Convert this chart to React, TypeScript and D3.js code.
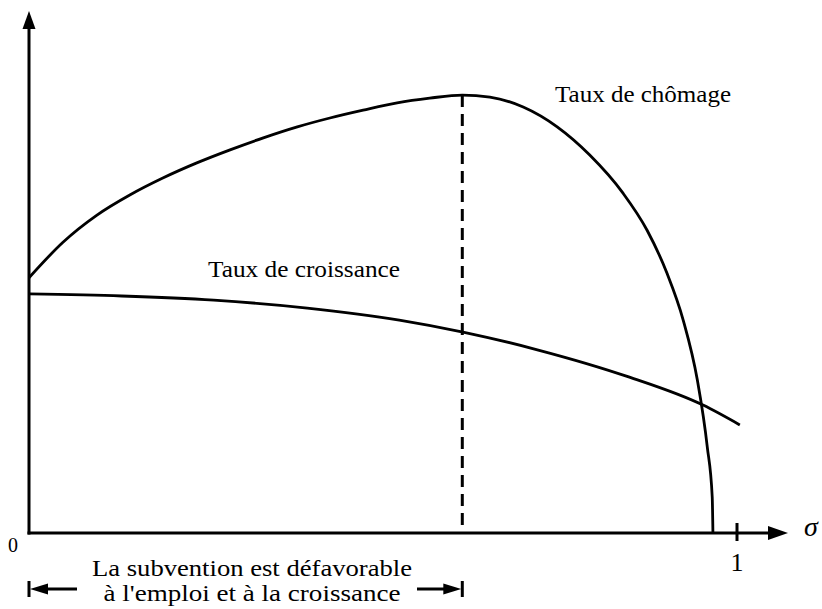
import React from "react";
import * as d3 from "d3";

// Courbe du taux de chômage en fonction de la subvention σ
const sigmaChomage = [0, 0.048, 0.096, 0.143, 0.189, 0.237, 0.284, 0.331, 0.379, 0.425, 0.472, 0.52, 0.566, 0.612, 0.651, 0.698, 0.746, 0.792, 0.839, 0.873, 0.901, 0.924, 0.944, 0.958, 0.965, 0.966];
const tauxChomage = [0.489, 0.557, 0.609, 0.648, 0.68, 0.709, 0.734, 0.757, 0.778, 0.795, 0.81, 0.824, 0.833, 0.839, 0.835, 0.816, 0.778, 0.724, 0.651, 0.58, 0.498, 0.408, 0.293, 0.165, 0.069, 0];

// Courbe du taux de croissance
const sigmaCroissance = [0, 0.131, 0.261, 0.393, 0.523, 0.613, 0.718, 0.847, 0.952, 1.004];
const tauxCroissance = [0.458, 0.454, 0.446, 0.431, 0.408, 0.385, 0.351, 0.299, 0.245, 0.207];

// Seuil au-delà duquel le chômage diminue
const sigmaSeuil = 0.612;
const xTickValues = [1];
const originLabel = "0";

const W = 822;
const H = 609;
const serif: React.CSSProperties = { fontFamily: '"Liberation Serif", "DejaVu Serif", serif' };

export default function App() {
  const x = d3.scaleLinear().domain([0, 1]).range([29, 737]);
  const y = d3.scaleLinear().domain([0, 1]).range([533, 11]);

  const line = d3
    .line<[number, number]>()
    .x((d) => x(d[0]))
    .y((d) => y(d[1]))
    .curve(d3.curveMonotoneX);

  const chomage: [number, number][] = sigmaChomage.map((s, i) => [s, tauxChomage[i]]);
  const croissance: [number, number][] = sigmaCroissance.map((s, i) => [s, tauxCroissance[i]]);

  const x0 = x(0);
  const y0 = y(0);
  const xEnd = 788;
  const yTop = y(1);
  const seuilX = x(sigmaSeuil);
  const seuilY = y(tauxChomage[sigmaChomage.indexOf(sigmaSeuil)]);

  const bracketY = 589;

  return (
    <div style={{ position: "absolute", left: 0, top: 0 }}>
      <svg width={W} height={H} viewBox={`0 0 ${W} ${H}`} style={{ display: "block", background: "#fff" }}>
        {/* axes */}
        <line x1={x0} y1={y0 + 1.5} x2={x0} y2={yTop + 12} stroke="#000" strokeWidth={3} />
        <path d={`M${x0},${yTop} L${x0 - 6.5},${yTop + 18} L${x0 + 6.5},${yTop + 18} Z`} fill="#000" />
        <line x1={x0 - 1.5} y1={y0} x2={xEnd - 12} y2={y0} stroke="#000" strokeWidth={3} />
        <path d={`M${xEnd},${y0} L${xEnd - 20},${y0 - 7} L${xEnd - 20},${y0 + 7} Z`} fill="#000" />

        {xTickValues.map((t) => (
          <g key={t}>
            <line x1={x(t)} y1={y0 - 10} x2={x(t)} y2={y0 + 8} stroke="#000" strokeWidth={3} />
            <text x={x(t)} y={y0 + 38} textAnchor="middle" style={serif} fontSize={26}>
              {t}
            </text>
          </g>
        ))}
        <text x={13} y={y0 + 19} textAnchor="middle" style={serif} fontSize={20}>
          {originLabel}
        </text>
        <text x={804} y={y0 + 3} style={serif} fontSize={28} fontStyle="italic">
          σ
        </text>

        {/* curves */}
        <path d={line(croissance) ?? ""} fill="none" stroke="#000" strokeWidth={2.8} />
        <path d={line(chomage) ?? ""} fill="none" stroke="#000" strokeWidth={2.8} />
        <line x1={seuilX} y1={seuilY} x2={seuilX} y2={y0} stroke="#000" strokeWidth={3} strokeDasharray="12,7" />

        {/* labels */}
        <text x={555} y={102} style={serif} fontSize={24} textLength={176} lengthAdjust="spacingAndGlyphs">
          Taux de chômage
        </text>
        <text x={208} y={277} style={serif} fontSize={24} textLength={192} lengthAdjust="spacingAndGlyphs">
          Taux de croissance
        </text>

        {/* bracket */}
        <line x1={x0} y1={bracketY - 8} x2={x0} y2={bracketY + 8} stroke="#000" strokeWidth={3} />
        <path d={`M${x0 + 1},${bracketY} L${x0 + 19},${bracketY - 5.5} L${x0 + 19},${bracketY + 5.5} Z`} fill="#000" />
        <line x1={x0 + 15} y1={bracketY} x2={77} y2={bracketY} stroke="#000" strokeWidth={3} />
        <line x1={seuilX} y1={bracketY - 8} x2={seuilX} y2={bracketY + 8} stroke="#000" strokeWidth={3} />
        <path d={`M${seuilX - 1},${bracketY} L${seuilX - 19},${bracketY - 5.5} L${seuilX - 19},${bracketY + 5.5} Z`} fill="#000" />
        <line x1={417} y1={bracketY} x2={seuilX - 15} y2={bracketY} stroke="#000" strokeWidth={3} />

        <text x={252} y={576} textAnchor="middle" style={serif} fontSize={24} textLength={320} lengthAdjust="spacingAndGlyphs">
          La subvention est défavorable
        </text>
        <text x={252} y={601} textAnchor="middle" style={serif} fontSize={24} textLength={297} lengthAdjust="spacingAndGlyphs">
          à l'emploi et à la croissance
        </text>
      </svg>
    </div>
  );
}
